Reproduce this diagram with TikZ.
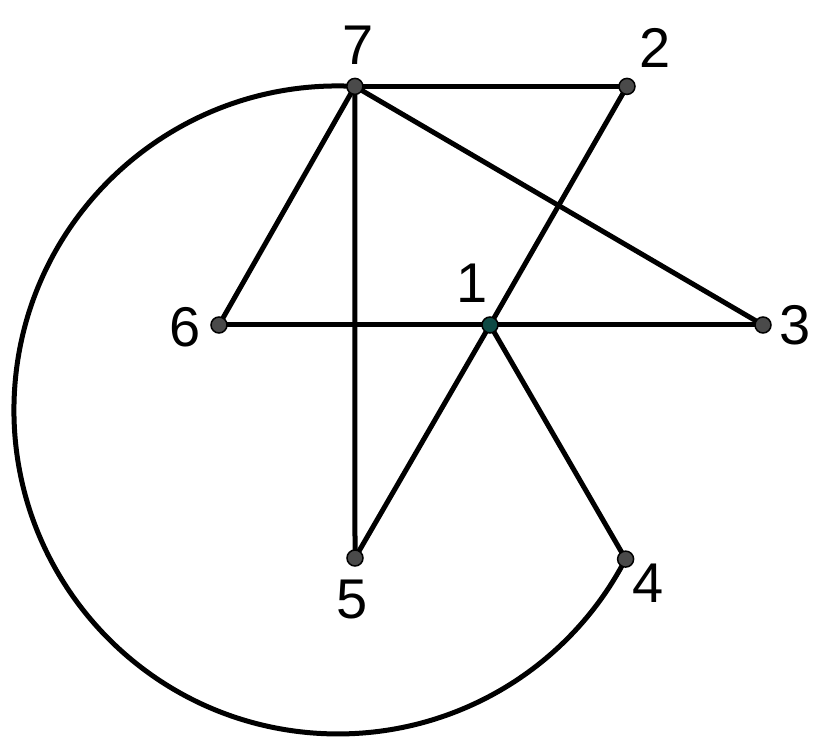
\documentclass[tikz,border=0pt]{standalone}
\usepackage{fontspec}
\setmainfont{Liberation Sans}
\begin{document}
\begin{tikzpicture}[x=1pt,y=1pt,
  edge/.style={line width=5pt,black},
  dot/.style={circle,draw=black,line width=1.5pt,fill=dotgray,minimum size=16pt,inner sep=0pt},
  lab/.style={font=\fontsize{56}{60}\selectfont,inner sep=0pt}]
\definecolor{dotgray}{HTML}{4A4A4A}
\definecolor{dotteal}{HTML}{0E4A44}
\useasboundingbox (0,0) rectangle (819,749);
\fill[white] (0,0) rectangle (819,749);
\coordinate (c) at (338,339);
\coordinate (p7) at (354.9,662.6);
\coordinate (p2) at (627,662.6);
\coordinate (p6) at (219,424);
\coordinate (p1) at (490,424);
\coordinate (p3) at (763,424);
\coordinate (p5) at (355,191);
\coordinate (p4) at (625.6,189.9);
\draw[edge] (p7) arc[start angle=87,end angle=332.6,radius=324];
\draw[edge] (p7) -- (p2);
\draw[edge] (p7) -- (p6);
\draw[edge] (p7) -- (p5);
\draw[edge] (p7) -- (p3);
\draw[edge] (p6) -- (p3);
\draw[edge] (p2) -- (p1);
\draw[edge] (p1) -- (p5);
\draw[edge] (p1) -- (p4);
\node[dot] (n7) at (p7) {};
\node[dot] (n2) at (p2) {};
\node[dot] (n6) at (p6) {};
\node[dot,fill=dotteal] (n1) at (p1) {};
\node[dot] (n3) at (p3) {};
\node[dot] (n5) at (p5) {};
\node[dot] (n4) at (p4) {};
\node[lab] (l7) at (358,704) {7};
\node[lab] (l2) at (655,701) {2};
\node[lab] (l6) at (185,422) {6};
\node[lab] (l1) at (472,466) {1};
\node[lab] (l3) at (795,424) {3};
\node[lab] (l5) at (352,149) {5};
\node[lab] (l4) at (648,166) {4};
\end{tikzpicture}
\end{document}
